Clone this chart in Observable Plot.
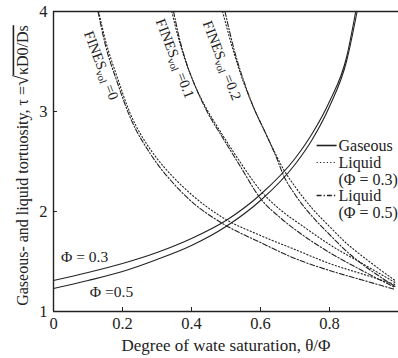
<!DOCTYPE html>
<html><head><meta charset="utf-8">
<script src="https://cdn.jsdelivr.net/npm/d3@7"></script>
<script src="https://cdn.jsdelivr.net/npm/@observablehq/plot@0.6"></script>
<style>
html,body{margin:0;padding:0;background:#fff;}
#chart svg{display:block;font-family:"Liberation Serif","Times New Roman",serif !important;}
#chart svg text, #chart svg g{font-family:"Liberation Serif","Times New Roman",serif !important;}
</style></head><body><div id="chart"></div>
<script>
// tick values
const xTicks = [0, 0.2, 0.4, 0.6, 0.8];
const yTicks = [1, 2, 3, 4];
const xInnerTicks = [0.2, 0.4, 0.6, 0.8];
const yInnerTicks = [2, 3];

// Gaseous tortuosity [saturation, tau]
const gasPhi03 = [[0,1.31],[0.1,1.39],[0.2,1.48],[0.3,1.59],[0.4,1.73],[0.5,1.91],[0.6,2.17],[0.7,2.53],[0.75,2.78],[0.8,3.1],[0.85,3.55],[0.876,4.0]];
const gasPhi05 = [[0,1.23],[0.1,1.31],[0.2,1.40],[0.3,1.52],[0.4,1.66],[0.5,1.85],[0.6,2.11],[0.7,2.47],[0.75,2.72],[0.8,3.05],[0.85,3.51],[0.88,4.0]];

// Liquid tortuosity, FINESvol = 0
const liqF0Phi03 = [[0.131,4.0],[0.15,3.72],[0.185,3.34],[0.22,3.0],[0.24,2.85],[0.26,2.73],[0.3,2.53],[0.34,2.37],[0.4,2.17],[0.49,1.94],[0.6,1.76],[0.7,1.62],[0.8,1.48],[0.9,1.37],[0.99,1.27]];
const liqF0Phi05 = [[0.129,4.0],[0.15,3.67],[0.185,3.29],[0.22,2.96],[0.24,2.81],[0.26,2.69],[0.3,2.48],[0.34,2.31],[0.4,2.10],[0.49,1.88],[0.6,1.69],[0.7,1.53],[0.8,1.41],[0.9,1.31],[0.99,1.22]];
// FINESvol = 0.1
const liqF1Phi03 = [[0.343,4.0],[0.36,3.76],[0.38,3.53],[0.405,3.3],[0.44,3.05],[0.48,2.82],[0.54,2.50],[0.6,2.21],[0.66,2.01],[0.72,1.86],[0.8,1.67],[0.9,1.47],[0.99,1.29]];
const liqF1Phi05 = [[0.348,4.0],[0.365,3.73],[0.385,3.49],[0.41,3.26],[0.445,3.0],[0.49,2.74],[0.54,2.46],[0.6,2.13],[0.66,1.93],[0.72,1.77],[0.8,1.59],[0.9,1.40],[0.99,1.24]];
// FINESvol = 0.2
const liqF2Phi03 = [[0.49,4.0],[0.52,3.62],[0.55,3.3],[0.58,3.04],[0.61,2.82],[0.64,2.6],[0.667,2.42],[0.7,2.25],[0.75,2.03],[0.8,1.85],[0.85,1.68],[0.9,1.54],[0.95,1.41],[0.99,1.31]];
const liqF2Phi05 = [[0.497,4.0],[0.525,3.6],[0.555,3.27],[0.585,3.0],[0.615,2.78],[0.645,2.55],[0.667,2.36],[0.7,2.17],[0.75,1.95],[0.8,1.77],[0.85,1.6],[0.9,1.46],[0.95,1.34],[0.99,1.25]];

const seriesNames = ["gas03","gas05","f0p3","f0p5","f1p3","f1p5","f2p3","f2p5"];
const seriesStyles = ["gas","gas","dot","dash","dot","dash","dot","dash"];
const seriesPts = [gasPhi03,gasPhi05,liqF0Phi03,liqF0Phi05,liqF1Phi03,liqF1Phi05,liqF2Phi03,liqF2Phi05];

// labels
const finesLabels = ["FINESvol =0","FINESvol =0.1","FINESvol =0.2"];
const finesLabelX = [0.138, 0.352, 0.488];
const finesLabelY = [3.46, 3.53, 3.51];
const phiLabels = ["Φ = 0.3","Φ =0.5"];
const phiLabelX = [0.09, 0.168];
const phiLabelY = [1.54, 1.19];
const legendNames = ["Gaseous","Liquid","(Φ = 0.3)","Liquid","(Φ = 0.5)"];
const legendKeyStyle = ["gas","dot",null,"dash",null];
const xLabel = "Degree of wate saturation, θ/Φ";
const yLabel = "Gaseous- and liquid tortuosity, τ =√κD0/Ds";

const rows = seriesNames.flatMap((n,i)=>seriesPts[i].map(([x,y])=>({key:n, style:seriesStyles[i], x, y})));
const dashOf = {gas: null, dot: "1.2,2.2", dash: "5,2,1.3,2"};

// legend layout (data space)
const legY = [2.66, 2.49, 2.32, 2.16, 1.99];
const legRows = legendNames.map((t,i)=>({t, s:legendKeyStyle[i], y:legY[i]}));

const ink = "#222";
const fmt = d => String(d);
const plot = Plot.plot({
  width: 398, height: 358,
  marginLeft: 53, marginRight: 0, marginTop: 11, marginBottom: 47,
  style: {fontFamily: "Liberation Serif", fontSize: "16px", background: "#fff", color: ink},
  x: {domain: [0, 1]},
  y: {domain: [1, 4]},
  marks: [
    Plot.axisX({ticks: xTicks, tickSize: 0, tickPadding: 6, label: null, fontSize: 16.5, tickFormat: fmt}),
    Plot.axisY({ticks: yTicks, tickSize: 0, tickPadding: 6, label: null, fontSize: 16.5, tickFormat: fmt}),
    Plot.tickX(xInnerTicks, {insetTop: 296, stroke: ink, strokeWidth: 1}),
    Plot.tickY(yInnerTicks, {insetRight: 341, stroke: ink, strokeWidth: 1}),
    ...["gas","dot","dash"].map(st => Plot.line(rows.filter(d=>d.style===st), {
      x: "x", y: "y", z: "key", stroke: ink, strokeWidth: 1.1,
      strokeDasharray: dashOf[st], curve: "monotone-x"
    })),
    Plot.ruleY([1, 4], {stroke: ink, strokeWidth: 1.4}),
    Plot.ruleX([0], {stroke: ink, strokeWidth: 1.4}),
    Plot.text(finesLabels, {x: (d,i)=>finesLabelX[i], y: (d,i)=>finesLabelY[i], rotate: 69, fontSize: 14.5, fill: ink, className: "fines"}),
    Plot.text(phiLabels, {x: (d,i)=>phiLabelX[i], y: (d,i)=>phiLabelY[i], fontSize: 15.5, fill: ink}),
    Plot.ruleY(legRows.filter(d=>d.s==="gas"), {y: "y", x1: 0.764, x2: 0.822, stroke: ink, strokeWidth: 1.6}),
    Plot.ruleY(legRows.filter(d=>d.s==="dot"), {y: "y", x1: 0.764, x2: 0.822, stroke: ink, strokeWidth: 1.2, strokeDasharray: dashOf.dot}),
    Plot.ruleY(legRows.filter(d=>d.s==="dash"), {y: "y", x1: 0.764, x2: 0.822, stroke: ink, strokeWidth: 1.4, strokeDasharray: dashOf.dash}),
    Plot.text(legRows, {x: 0.826, y: "y", text: "t", textAnchor: "start", fontSize: 16, fill: ink}),
    Plot.text([xLabel], {frameAnchor: "bottom", dy: 39, fontSize: 17, fill: ink}),
    Plot.text([yLabel], {frameAnchor: "left", textAnchor: "middle", dx: -31, dy: 4, rotate: -90, fontSize: 16, fill: ink, className: "ylab"})
  ]
});
document.getElementById("chart").appendChild(plot);

// subscript "vol" in FINES labels
const NS = "http://www.w3.org/2000/svg";
plot.querySelectorAll("g.fines text").forEach(el => {
  const txt = el.textContent;
  const m = txt.match(/^FINES(vol)(.*)$/);
  if (!m) return;
  el.textContent = "";
  el.appendChild(document.createTextNode("FINES"));
  const sub = document.createElementNS(NS, "tspan");
  sub.setAttribute("font-size", "10.5");
  sub.setAttribute("dy", "3");
  sub.textContent = m[1];
  el.appendChild(sub);
  const rest = document.createElementNS(NS, "tspan");
  rest.setAttribute("dy", "-3");
  rest.textContent = m[2];
  el.appendChild(rest);
});
// radical with overline in y label
plot.querySelectorAll("g.ylab text").forEach(el => {
  const txt = el.textContent;
  const k = txt.indexOf("√");
  if (k < 0) return;
  el.textContent = "";
  el.appendChild(document.createTextNode(txt.slice(0, k)));
  const rad = document.createElementNS(NS, "tspan");
  rad.setAttribute("font-size", "20");
  rad.textContent = "√";
  el.appendChild(rad);
  const under = document.createElementNS(NS, "tspan");
  under.setAttribute("style", "text-decoration: overline");
  under.textContent = txt.slice(k + 1);
  el.appendChild(under);
});
</script></body></html>
